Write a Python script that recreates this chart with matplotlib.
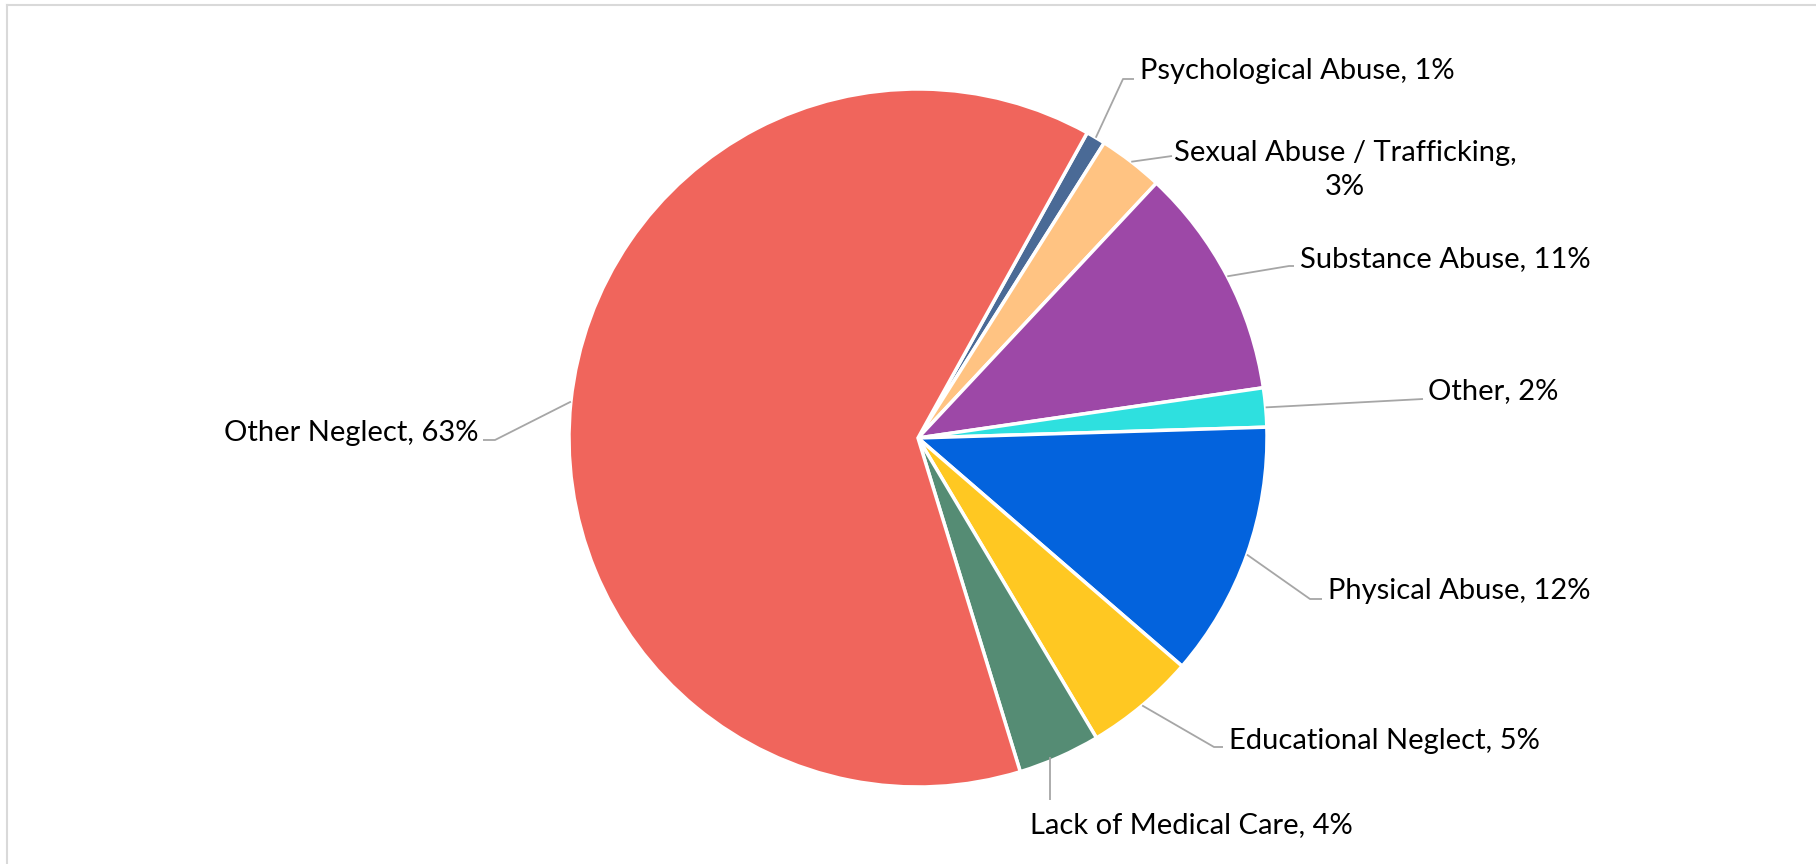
import numpy as np
import matplotlib
matplotlib.use("Agg")
import matplotlib.pyplot as plt
from matplotlib.lines import Line2D

# data (percent shares)
categories = ["Psychological Abuse", "Sexual Abuse / Trafficking", "Substance Abuse",
              "Other", "Physical Abuse", "Educational Neglect",
              "Lack of Medical Care", "Other Neglect"]
shares = [0.9, 3.0, 10.7, 1.8, 11.8, 5.1, 3.8, 62.6]
colors = ["#4A6A96", "#FFC382", "#9D48A7", "#2EE0DF",
          "#0363DD", "#FFC822", "#558C74", "#F0655C"]

# label layout in pixels: (elbow x, elbow y, text x, text y, horizontal alignment)
label_pos = [
    (1123, 79, 1140, 71, "left"),
    (1172, 156, 1345, 170, "center"),
    (1289, 266, 1300, 259, "left"),
    (1423, 399, 1428, 391, "left"),
    (1310, 599, 1328, 591, "left"),
    (1214, 747, 1229, 741, "left"),
    (1050, 800, 1030, 825, "left"),
    (495, 440, 478, 433, "right"),
]

W, H = 1816, 864
plt.rcParams['font.family'] = ['Lato', 'DejaVu Sans']
fig = plt.figure(figsize=(W / 100, H / 100), dpi=100)
ax = fig.add_axes([0, 0, 1, 1])

cx, cy, r = 918, H - 438, 349
start = 61  # first slice begins about 29 deg clockwise from 12 o'clock
wedges, _ = ax.pie(shares, colors=colors, startangle=start, counterclock=False,
                   center=(cx, cy), radius=r, frame=True,
                   wedgeprops=dict(edgecolor='white', linewidth=2.5))
ax.set_xlim(0, W)
ax.set_ylim(0, H)
ax.set_aspect('equal')
ax.axis('off')

total = sum(shares)
for w, name, val, (ex, ey, tx, ty, ha) in zip(wedges, categories, shares, label_pos):
    mid = np.deg2rad((w.theta1 + w.theta2) / 2)
    sx, sy = cx + r * np.cos(mid), cy + r * np.sin(mid)
    pct = round(val / total * 100)
    if name.startswith("Sexual"):
        txt = f"{name},\n{pct}%"
    else:
        txt = f"{name}, {pct}%"
    if name == "Lack of Medical Care":
        xs, ys = [ex, ex], [sy, H - ey]
    else:
        xs, ys = [sx, ex], [sy, H - ey]
    if ha == "left" and tx - 6 > ex:
        xs.append(tx - 6)
        ys.append(H - ey)
    elif ha == "right":
        xs.append(tx + 5)
        ys.append(H - ey)
    ax.plot(xs, ys, color='#A6A6A6', lw=1.3, solid_capstyle='butt')
    ax.text(tx, H - ty, txt, ha=ha, va='center', fontsize=21,
            color='black', linespacing=1.35, multialignment='center')

# chart frame (cropped at right and bottom)
fig.add_artist(Line2D([7, W], [H - 5, H - 5], transform=None, color='#D9D9D9', lw=1.5))
fig.add_artist(Line2D([7, 7], [H - 5, 0], transform=None, color='#D9D9D9', lw=1.5))

fig.savefig("out.png", dpi=100, facecolor='white')
